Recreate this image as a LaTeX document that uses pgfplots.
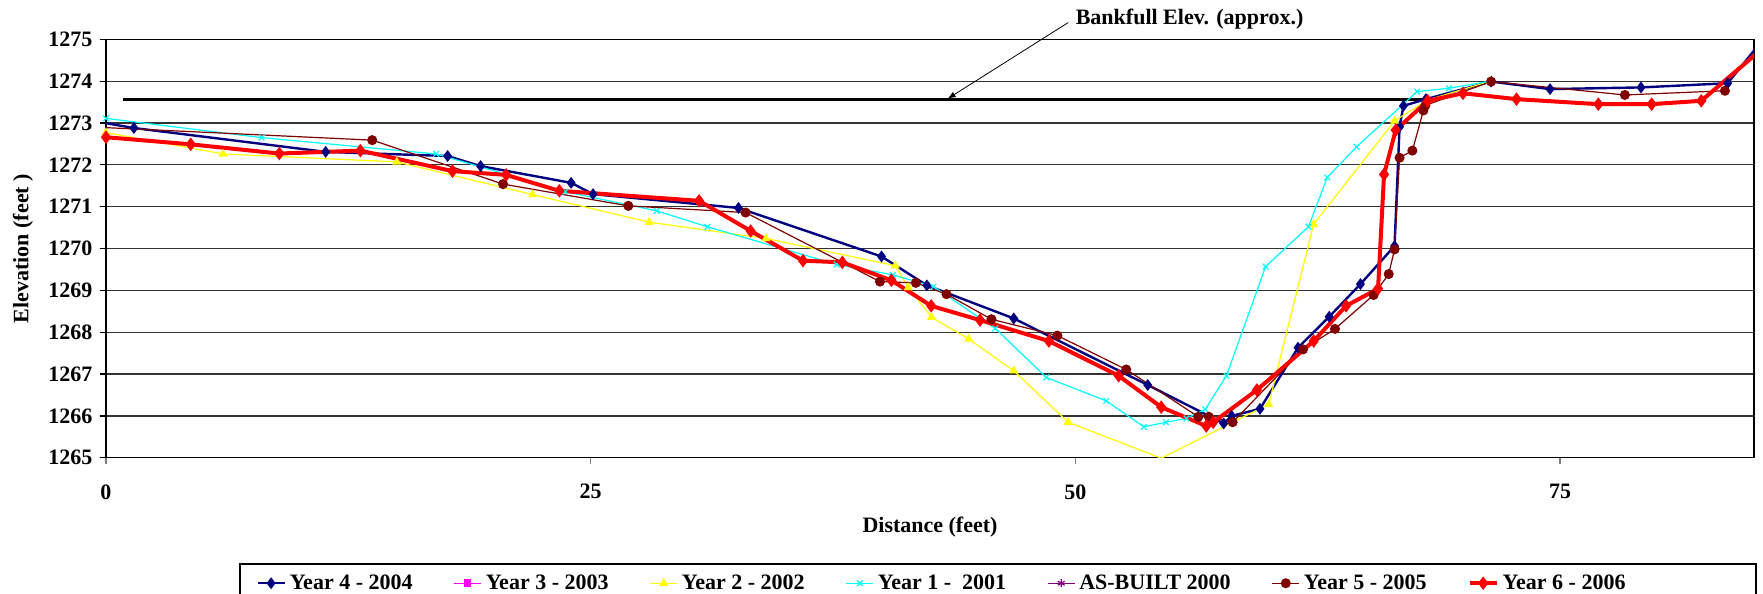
\documentclass[border=0pt]{standalone}
\usepackage{fontspec}
\setmainfont{Liberation Serif}
\usepackage{pgfplots}
\pgfplotsset{compat=1.18}
\usetikzlibrary{arrows.meta}
\definecolor{navyc}{HTML}{000080}
\definecolor{magc}{HTML}{FF00FF}
\definecolor{yelc}{HTML}{FFFF00}
\definecolor{cyac}{HTML}{00FFFF}
\definecolor{purc}{HTML}{800080}
\definecolor{drc}{HTML}{800000}
\definecolor{redc}{HTML}{FF0000}
\newcommand{\cf}{\bfseries\fontsize{11}{13}\selectfont}
\begin{document}
\begin{tikzpicture}
\useasboundingbox (0,0) rectangle (881.5pt,297pt);
\begin{axis}[
  at={(53pt,68.1pt)}, anchor=south west,
  scale only axis, width=824pt, height=209.25pt,
  xmin=0, xmax=85, ymin=1265, ymax=1275,
  xtick={0,25,50,75}, ytick={1265,1266,...,1275},
  ymajorgrids, major grid style={black!80, line width=0.6pt},
  axis line style={black, line width=0.7pt},
  tick pos=left, tick align=outside, major tick length=3pt,
  xtick style={gray, line width=0.7pt},
  ytick style={black, line width=0.6pt},
  /pgf/number format/1000 sep={},
  /pgf/number format/assume math mode=true,
  tick label style={font=\cf},
  xticklabel style={anchor=center, yshift=-14pt},
  yticklabel style={xshift=-0.3pt},
  xlabel={Distance (feet)}, ylabel={Elevation (feet )},
  label style={font=\cf},
  xlabel style={at={(axis description cs:0.5,0)}, anchor=center, yshift=-34.6pt},
  ylabel style={at={(axis description cs:-0.0504,0.5)}, anchor=center},
  legend columns=7,
  legend cell align=left,
  legend style={at={(axis description cs:0.0813,-0.2538)}, anchor=north west,
    draw=none, fill=none, inner xsep=8pt, inner ysep=3pt, font=\cf,
    /tikz/every even column/.append style={column sep=18.5pt}},
  legend image code/.code={\draw[mark repeat=2,mark phase=2,#1] plot coordinates {(0pt,0pt)(6.75pt,0pt)(13.5pt,0pt)};},
]
\addplot[black, line width=1.5pt, forget plot] coordinates {(0.9,1273.55)(68.4,1273.55)};

\addplot[navyc, line width=1.2pt, mark=diamond*, mark size=2pt, mark options={solid,fill=navyc}] coordinates {
(-0.3,1273.02)(1.44,1272.88)(11.33,1272.31)(17.62,1272.21)(19.32,1271.97)
(23.99,1271.57)(25.12,1271.30)(32.62,1270.97)(40.00,1269.81)(42.34,1269.12)
(46.82,1268.33)(53.73,1266.74)(57.65,1265.82)(58.06,1266.00)(59.52,1266.17)
(61.48,1267.63)(63.09,1268.37)(64.70,1269.15)(66.46,1270.06)(66.72,1272.91)
(66.92,1273.41)(68.08,1273.57)(71.44,1273.99)(74.48,1273.81)(79.17,1273.85)
(83.64,1273.95)(86.00,1275.30)};
\addlegendentry{Year 4 - 2004}

\addlegendimage{magc, line width=0.6pt, mark=square*, mark size=1.6pt, mark options={fill=magc}}
\addlegendentry{Year 3 - 2003}

\addplot[yelc, line width=0.6pt, mark=triangle*, mark size=2pt, mark options={fill=yelc}] coordinates {
(0,1272.77)(6.04,1272.26)(15.0,1272.07)(22.0,1271.29)(28.02,1270.63)
(34.04,1270.24)(40.71,1269.59)(41.38,1269.07)(42.58,1268.36)(44.49,1267.84)
(46.82,1267.08)(49.62,1265.85)(54.43,1264.99)(59.97,1266.28)(62.29,1270.58)
(66.46,1273.05)(68.17,1273.55)(71.4,1274.0)};
\addlegendentry{Year 2 - 2002}

\addplot[cyac, line width=0.6pt, mark=x, mark size=2pt] coordinates {
(0,1273.11)(8.03,1272.65)(17.03,1272.26)(23.69,1271.36)(28.41,1270.90)
(31.02,1270.52)(37.69,1269.62)(40.59,1269.37)(42.68,1269.09)(45.87,1268.09)
(48.50,1266.92)(51.59,1266.36)(53.53,1265.74)(54.67,1265.85)(55.73,1265.94)
(56.70,1266.16)(57.79,1266.96)(59.81,1269.57)(62.02,1270.52)(62.99,1271.70)
(64.50,1272.43)(67.62,1273.75)(69.27,1273.83)(71.4,1274.0)};
\addlegendentry{Year 1 - \ 2001}

\addlegendimage{purc, line width=0.6pt, mark=asterisk, mark size=2pt}
\addlegendentry{AS-BUILT 2000}

\addplot[drc, line width=0.6pt, mark=*, mark size=2.2pt, mark options={fill=drc}] coordinates {
(-0.5,1272.9)(13.73,1272.59)(20.48,1271.54)(26.94,1271.02)(32.99,1270.86)
(39.92,1269.21)(41.77,1269.18)(43.35,1268.91)(45.67,1268.31)(49.07,1267.92)
(52.62,1267.11)(56.34,1265.98)(56.88,1265.98)(58.11,1265.85)(61.74,1267.59)
(63.39,1268.08)(65.38,1268.89)(66.16,1269.39)(66.46,1269.98)(66.72,1272.17)
(67.38,1272.34)(67.95,1273.30)(68.05,1273.42)(71.44,1273.99)(78.34,1273.67)
(83.50,1273.77)};
\addlegendentry{Year 5 - 2005}

\addplot[redc, line width=2pt, mark=diamond*, mark size=3pt, mark options={fill=redc, line width=0.5pt}] coordinates {
(0,1272.66)(4.37,1272.49)(8.94,1272.27)(13.12,1272.34)(17.87,1271.85)
(20.64,1271.76)(23.38,1271.38)(30.59,1271.14)(33.25,1270.42)(35.95,1269.71)
(37.98,1269.67)(40.51,1269.24)(42.56,1268.63)(45.08,1268.29)(48.63,1267.79)
(52.23,1266.96)(54.43,1266.21)(56.75,1265.76)(57.11,1265.85)(59.36,1266.62)
(62.29,1267.79)(63.96,1268.63)(65.61,1269.04)(65.92,1271.77)(66.52,1272.83)
(68.17,1273.53)(69.99,1273.71)(72.75,1273.57)(76.97,1273.45)(79.72,1273.45)
(82.28,1273.53)(86.0,1275.0)};
\addlegendentry{Year 6 - 2006}

\coordinate (arrA) at (axis cs:49.63,1275.40);
\coordinate (arrB) at (axis cs:43.41,1273.58);
\coordinate (txt) at (axis cs:50.0,1275.485);
\end{axis}
\draw[line width=0.4pt, -{Latex[length=4pt,width=3pt]}] (arrA) -- (arrB);
\node[anchor=west, font=\cf, inner sep=0pt] at (txt) {Bankfull Elev. (approx.)};
\draw[black, line width=0.9pt] (120pt,-5pt) rectangle (878pt,15pt);
\end{tikzpicture}
\end{document}
